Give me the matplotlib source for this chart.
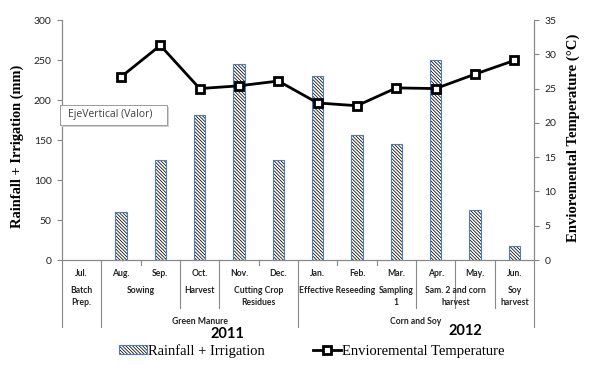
import numpy as np
import matplotlib
matplotlib.use('Agg')
import matplotlib.pyplot as plt
from matplotlib.patches import Patch, Rectangle
from matplotlib.lines import Line2D
from matplotlib.transforms import blended_transform_factory

# datos
months = ['Jul.', 'Aug.', 'Sep.', 'Oct.', 'Nov.', 'Dec.',
          'Jan.', 'Feb.', 'Mar.', 'Apr.', 'May.', 'Jun.']
rainfall = [np.nan, 60, 125, 181, 245, 125, 230, 156, 145, 250, 63, 18]
temperature = [np.nan, 26.7, 31.3, 25.0, 25.4, 26.1, 22.9, 22.5, 25.1, 25.0, 27.1, 29.1]
phases = [('Batch\nPrep.', 0, 0), ('Sowing', 1, 2), ('Harvest', 3, 3),
          ('Cutting Crop\nResidues', 4, 5), ('Effective Reseeding', 6, 7),
          ('Sampling\n1', 8, 8), ('Sam. 2 and corn\nharvest', 9, 10),
          ('Soy\nharvest', 11, 11)]
groups = [('Green Manure', 1, 5), ('Corn and Soy', 6, 11)]
years = ['2011', '2012']
rain_ticks = [0, 50, 100, 150, 200, 250, 300]
temp_ticks = [0, 5, 10, 15, 20, 25, 30, 35]

W, H = 591, 365
def fy(py):
    return 1 - py / H

HATCH = '\\' * 10

plt.rcParams['hatch.linewidth'] = 0.55
fig = plt.figure(figsize=(W / 100, H / 100), dpi=100)
ax = fig.add_axes([62 / W, fy(260), (534 - 62) / W, (260 - 20) / H])
ax2 = ax.twinx()

x = np.arange(len(months))
bw = 0.28
ax.bar(x, rainfall, width=bw, color='white', edgecolor='black', linewidth=0,
       hatch=HATCH, zorder=2)
ax.bar(x, rainfall, width=bw, fill=False, edgecolor='#4a7cc4', linewidth=0.8, zorder=3)
ax2.plot(x, temperature, color='black', lw=2, marker='s', ms=6.3,
         mfc='white', mec='black', mew=2, zorder=4)

ax.set_xlim(-0.5, 11.5)
ax.set_ylim(0, 300)
ax2.set_ylim(0, 35)
ax.set_yticks(rain_ticks)
ax2.set_yticks(temp_ticks)
ax.set_xticks([])

sans = 'Lato'
for a in (ax, ax2):
    for s in a.spines.values():
        s.set_color('#888888')
        s.set_linewidth(0.8)
    a.spines['top'].set_visible(False)
    a.tick_params(axis='y', length=3.5, width=0.8, color='#888888',
                  labelsize=7.5, labelcolor='#222222', pad=4)
    for lbl in a.get_yticklabels():
        lbl.set_family(sans)

ax.set_ylabel('Rainfall + Irrigation (mm)', family='Liberation Serif',
              fontweight='bold', fontsize=10.4)
ax.yaxis.set_label_coords(-38 / 472, (260 - 146) / 240)
ax2.set_ylabel('Envioremental Temperature (°C)', family='Liberation Serif',
               fontweight='bold', fontsize=10.6, rotation=90)
ax2.yaxis.set_label_coords(1 + 33 / 472, (260 - 138) / 240)

# eje de categorias multinivel
tr = blended_transform_factory(ax.transData, fig.transFigure)
sep_full = [-0.5, 0.5, 5.5, 11.5]
sep_mid = [2.5, 3.5, 8.5, 9.5, 10.5]
sep_short = [1.5, 4.5, 6.5, 7.5]
for xs, yb in [(sep_full, 327), (sep_mid, 308), (sep_short, 265)]:
    for xv in xs:
        fig.add_artist(Line2D([xv, xv], [fy(260), fy(yb)], transform=tr,
                              color='#888888', lw=0.8))

lab = dict(family=sans, fontweight='bold', fontsize=6.2, color='#222222')
for i, m in enumerate(months):
    fig.text(i, fy(273), m, transform=tr, ha='center', va='center', **lab)
for name, a, b in phases:
    fig.text((a + b) / 2, fy(286), name, transform=tr, ha='center', va='top',
             linespacing=1.4, **lab)
for name, a, b in groups:
    fig.text((a + b) / 2, fy(321), name, transform=tr, ha='center', va='center', **lab)

fig.text(227 / W, fy(334), years[0], ha='center', va='center', family=sans,
         fontweight='bold', fontsize=10.5)
fig.text(465 / W, fy(331), years[1], ha='center', va='center', family=sans,
         fontweight='bold', fontsize=10.5)

# etiqueta emergente
fig.add_artist(Rectangle((62 / W, fy(127)), 107 / W, 20 / H, transform=fig.transFigure,
                         facecolor='#d0d0d0', edgecolor='none'))
fig.add_artist(Rectangle((60 / W, fy(125)), 107 / W, 20 / H, transform=fig.transFigure,
                         facecolor='white', edgecolor='#9a9a9a', lw=0.7))
fig.text(68 / W, fy(115), 'EjeVertical (Valor)', ha='left', va='center',
         family='Open Sans', fontsize=7.5, color='#404040')

# leyenda
h_hatch = Patch(facecolor='white', edgecolor='black', linewidth=0, hatch=HATCH)
h_edge = Patch(fill=False, edgecolor='#4a7cc4', linewidth=0.8)
h_line = Line2D([], [], color='black', lw=2, marker='s', ms=6.3,
                mfc='white', mec='black', mew=2)
fig.legend([(h_hatch, h_edge), h_line],
           ['Rainfall + Irrigation', 'Envioremental Temperature'],
           loc='center', bbox_to_anchor=(312 / W, fy(351)), ncol=2, frameon=False,
           prop={'family': 'Liberation Serif', 'size': 10.5},
           handlelength=1.9, handleheight=0.6, handletextpad=0.1, columnspacing=3.3)

fig.savefig('out.png', dpi=100)
